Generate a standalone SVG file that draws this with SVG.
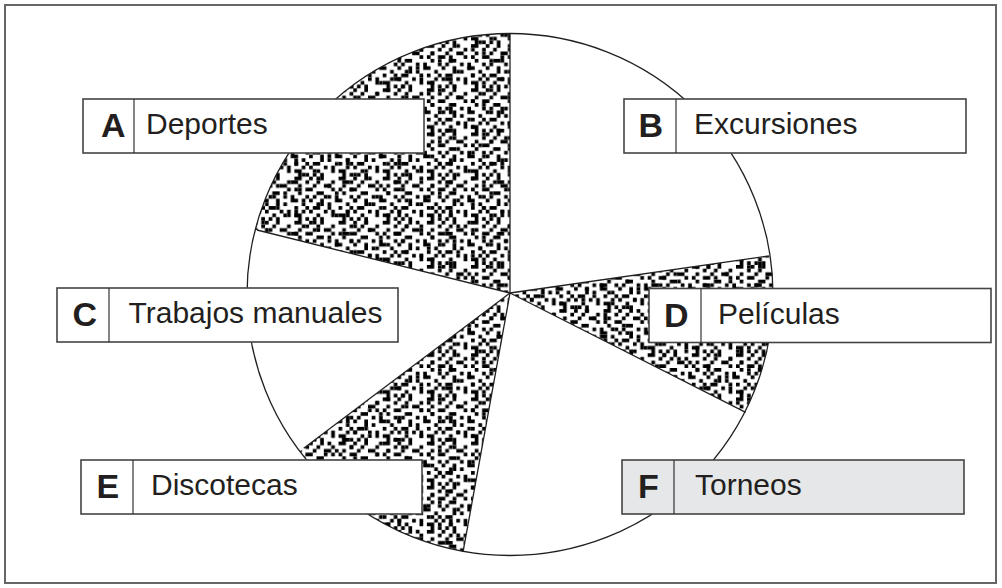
<svg xmlns="http://www.w3.org/2000/svg" width="1002" height="588" viewBox="0 0 1002 588">
<style>
.frame{fill:#fff;stroke:#666;stroke-width:2}
.box{fill:#fff;stroke:#444;stroke-width:1.6}
.box.gray{fill:#e6e7e8}
.div{stroke:#333;stroke-width:1.2}
.let{font-family:"Liberation Sans",Arial,sans-serif;font-weight:bold;font-size:34px;fill:#231f20}
.lab{font-family:"Liberation Sans",Arial,sans-serif;font-size:30px;fill:#231f20}
.spoke{stroke:#231f20;stroke-width:1.3;fill:none}
.outline{fill:none;stroke:#231f20;stroke-width:1.3}
.hatch{fill:url(#noise)}
.hatch2{fill:url(#noise2)}
</style>
<defs>
<pattern id="noise" patternUnits="userSpaceOnUse" width="48" height="48" patternTransform="scale(0.92)">
<path fill="#000" d="M0 0h4v4h-4z M12 0h4v4h-4z M32 0h8v4h-8z M8 4h4v4h-4z M24 4h4v4h-4z M44 4h4v4h-4z M4 8h4v4h-4z M16 8h8v4h-8z M36 8h4v4h-4z M0 12h4v4h-4z M24 12h4v4h-4z M32 12h4v4h-4z M44 12h4v4h-4z M8 16h8v4h-8z M36 16h4v4h-4z M4 20h4v4h-4z M20 20h4v4h-4z M28 20h4v4h-4z M44 20h4v4h-4z M0 24h4v4h-4z M12 24h4v4h-4z M28 24h8v4h-8z M12 28h4v4h-4z M20 28h4v4h-4z M40 28h4v4h-4z M4 32h8v4h-8z M32 32h4v4h-4z M44 32h4v4h-4z M0 36h4v4h-4z M16 36h4v4h-4z M24 36h4v4h-4z M40 36h4v4h-4z M8 40h4v4h-4z M24 40h4v4h-4z M32 40h8v4h-8z M4 44h4v4h-4z M12 44h4v4h-4z M36 44h4v4h-4z M44 44h4v4h-4z"/>
</pattern>
<pattern id="noise2" patternUnits="userSpaceOnUse" width="56" height="56" patternTransform="scale(0.92)">
<path fill="#000" d="M20 0h4v4h-4z M40 4h4v8h-4z M28 8h4v4h-4z M4 16h4v4h-4z M48 20h4v4h-4z M8 24h4v4h-4z M36 28h8v4h-8z M20 32h4v4h-4z M44 36h4v4h-4z M28 40h4v4h-4z M16 44h4v4h-4z M48 48h4v4h-4z M8 52h4v4h-4z"/>
</pattern>
<clipPath id="pieClip">
<ellipse cx="510" cy="294.5" rx="263" ry="261"/>
</clipPath>
</defs>
<rect class="frame" x="5" y="5" width="991" height="578"/>
<g id="pie">
<g clip-path="url(#pieClip)">
<polygon class="hatch" points="510,293 510,-50 -50,-50 -50,153.5"/>
<polygon class="hatch" points="510,293 1028,219 981.4,531.6"/>
<polygon class="hatch" points="510,293 97.4,603.6 416.2,810.4"/>
<polygon class="hatch2" points="510,293 510,-50 -50,-50 -50,153.5"/>
<polygon class="hatch2" points="510,293 1028,219 981.4,531.6"/>
<polygon class="hatch2" points="510,293 97.4,603.6 416.2,810.4"/>
</g>
<ellipse class="outline" cx="510" cy="294.5" rx="263" ry="261"/>
</g>
<g id="connectors">
<line class="spoke" x1="510" y1="293" x2="510" y2="33.5"/>
<line class="spoke" x1="510" y1="293" x2="257" y2="230"/>
<line class="spoke" x1="510" y1="293" x2="769" y2="256"/>
<line class="spoke" x1="510" y1="293" x2="745.7" y2="412.3"/>
<line class="spoke" x1="510" y1="293" x2="463.1" y2="551.7"/>
<line class="spoke" x1="510" y1="293" x2="303.7" y2="448.3"/>
</g>
<g id="nodeA">
<rect class="box" x="83" y="99" width="341" height="54"/>
<line class="div" x1="134" y1="99" x2="134" y2="153"/>
<text class="let" x="101" y="137">A</text>
<text class="lab" x="146" y="134">Deportes</text>
</g>
<g id="nodeB">
<rect class="box" x="624" y="99" width="342" height="54"/>
<line class="div" x1="676" y1="99" x2="676" y2="153"/>
<text class="let" x="638.5" y="137">B</text>
<text class="lab" x="694" y="134">Excursiones</text>
</g>
<g id="nodeC">
<rect class="box" x="57" y="288" width="341" height="54"/>
<line class="div" x1="109" y1="288" x2="109" y2="342"/>
<text class="let" x="72.5" y="326">C</text>
<text class="lab" x="128.5" y="323">Trabajos manuales</text>
</g>
<g id="nodeD">
<rect class="box" x="649" y="288.5" width="342" height="54"/>
<line class="div" x1="701" y1="288.5" x2="701" y2="342.5"/>
<text class="let" x="664" y="326.5">D</text>
<text class="lab" x="718" y="323.5">Películas</text>
</g>
<g id="nodeE">
<rect class="box" x="81" y="460" width="341" height="54"/>
<line class="div" x1="133" y1="460" x2="133" y2="514"/>
<text class="let" x="96.5" y="498">E</text>
<text class="lab" x="151" y="495">Discotecas</text>
</g>
<g id="nodeF">
<rect class="box gray" x="622" y="460" width="342" height="54"/>
<line class="div" x1="674" y1="460" x2="674" y2="514"/>
<text class="let" x="638" y="498">F</text>
<text class="lab" x="695" y="495">Torneos</text>
</g>
</svg>
